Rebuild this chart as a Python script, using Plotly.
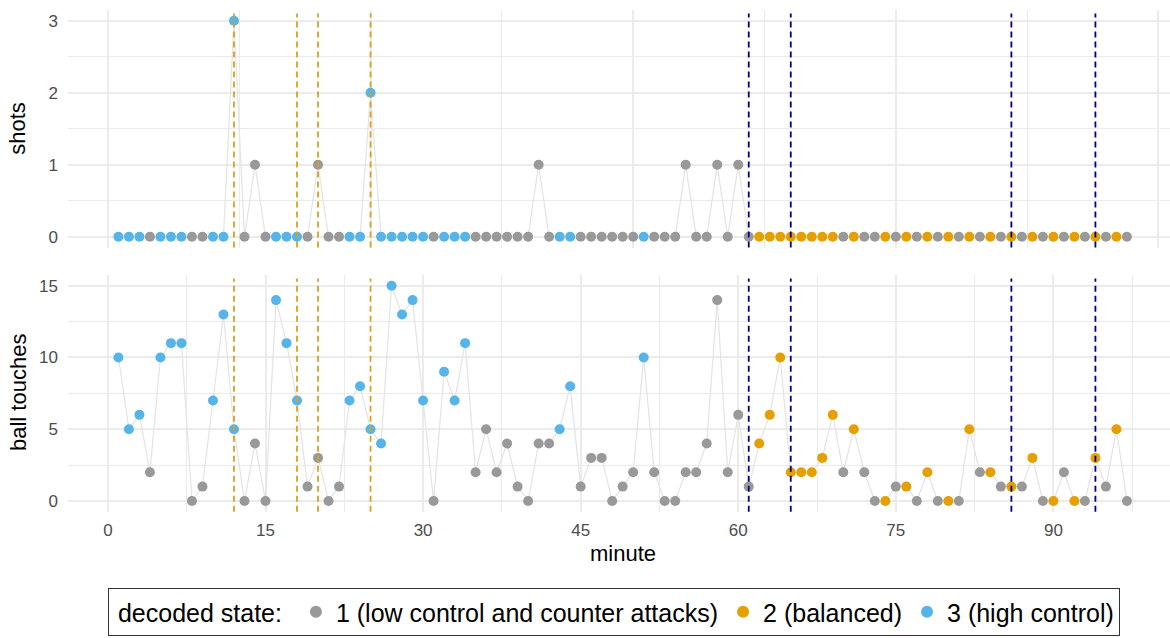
import plotly.graph_objects as go

# ---- data -------------------------------------------------------------
minute = [1, 2, 3, 4, 5, 6, 7, 8, 9, 10, 11, 12, 13, 14, 15, 16, 17, 18, 19, 20,
          21, 22, 23, 24, 25, 26, 27, 28, 29, 30, 31, 32, 33, 34, 35, 36, 37, 38, 39, 40,
          41, 42, 43, 44, 45, 46, 47, 48, 49, 50, 51, 52, 53, 54, 55, 56, 57, 58, 59, 60,
          61, 62, 63, 64, 65, 66, 67, 68, 69, 70, 71, 72, 73, 74, 75, 76, 77, 78, 79, 80,
          81, 82, 83, 84, 85, 86, 87, 88, 89, 90, 91, 92, 93, 94, 95, 96, 97]

decoded_state = [3, 3, 3, 1, 3, 3, 3, 1, 1, 3, 3, 3, 1, 1, 1, 3, 3, 3, 1, 1,
                 1, 1, 3, 3, 3, 3, 3, 3, 3, 3, 1, 3, 3, 3, 1, 1, 1, 1, 1, 1,
                 1, 1, 3, 3, 1, 1, 1, 1, 1, 1, 3, 1, 1, 1, 1, 1, 1, 1, 1, 1,
                 1, 2, 2, 2, 2, 2, 2, 2, 2, 1, 2, 1, 1, 2, 1, 2, 1, 2, 1, 2,
                 1, 2, 1, 2, 1, 2, 1, 2, 1, 2, 1, 2, 1, 2, 1, 2, 1]

shots = [0, 0, 0, 0, 0, 0, 0, 0, 0, 0, 0, 3, 0, 1, 0, 0, 0, 0, 0, 1,
         0, 0, 0, 0, 2, 0, 0, 0, 0, 0, 0, 0, 0, 0, 0, 0, 0, 0, 0, 0,
         1, 0, 0, 0, 0, 0, 0, 0, 0, 0, 0, 0, 0, 0, 1, 0, 0, 1, 0, 1,
         0, 0, 0, 0, 0, 0, 0, 0, 0, 0, 0, 0, 0, 0, 0, 0, 0, 0, 0, 0,
         0, 0, 0, 0, 0, 0, 0, 0, 0, 0, 0, 0, 0, 0, 0, 0, 0]

ball_touches = [10, 5, 6, 2, 10, 11, 11, 0, 1, 7, 13, 5, 0, 4, 0, 14, 11, 7, 1, 3,
                0, 1, 7, 8, 5, 4, 15, 13, 14, 7, 0, 9, 7, 11, 2, 5, 2, 4, 1, 0,
                4, 4, 5, 8, 1, 3, 3, 0, 1, 2, 10, 2, 0, 0, 2, 2, 4, 14, 2, 6,
                1, 4, 6, 10, 2, 2, 2, 3, 6, 2, 5, 2, 0, 0, 1, 1, 0, 2, 0, 0,
                0, 5, 2, 2, 1, 1, 1, 3, 0, 0, 2, 0, 0, 3, 1, 5, 0]

goals_team_a = [12, 18, 20, 25]
goals_team_b = [61, 65, 86, 94]

state_ids = [1, 2, 3]
state_labels = ["1 (low control and counter attacks)", "2 (balanced)", "3 (high control)"]

# ---- styling ----------------------------------------------------------
W, H = 1170, 638
FONT = "Liberation Sans, Arial, sans-serif"
state_colors = {1: "#999999", 2: "#E69F00", 3: "#56B4E9"}
GRID = "#ebebeb"
TICK_FONT = dict(family=FONT, size=17, color="#4d4d4d")


def dom_y(top_px, bottom_px):
    return [(H - bottom_px) / H, (H - top_px) / H]


fig = go.Figure()

panels = [(shots, "x", "y"), (ball_touches, "x2", "y2")]
for row, (values, xa, ya) in enumerate(panels):
    fig.add_trace(go.Scatter(
        x=minute, y=values, mode="lines",
        line=dict(color="#e3e3e3", width=1.2),
        xaxis=xa, yaxis=ya, showlegend=False, hoverinfo="skip"))
    for sid, label in zip(state_ids, state_labels):
        xs = [m for m, s in zip(minute, decoded_state) if s == sid]
        ys = [v for v, s in zip(values, decoded_state) if s == sid]
        fig.add_trace(go.Scatter(
            x=xs, y=ys, mode="markers",
            marker=dict(color=state_colors[sid], size=10, line=dict(width=0)),
            name=label, legendgroup=str(sid), showlegend=(row == 0),
            xaxis=xa, yaxis=ya))

# event markers as dashed verticals spanning each panel
for xref, yref in (("x", "y domain"), ("x2", "y2 domain")):
    for m in goals_team_a:
        fig.add_shape(type="line", xref=xref, yref=yref, x0=m, x1=m, y0=0, y1=0.985,
                      line=dict(color="#D9A11E", width=1.8, dash="6px,4px"))
    for m in goals_team_b:
        fig.add_shape(type="line", xref=xref, yref=yref, x0=m, x1=m, y0=0, y1=0.985,
                      line=dict(color="#00008B", width=1.8, dash="6px,4px"))

x_common = dict(range=[-3.8, 101.1], domain=[68 / W, 1], zeroline=False, showline=False,
                ticks="", gridcolor=GRID, gridwidth=1.6)
y_common = dict(zeroline=False, showline=False, ticks="", gridcolor=GRID, gridwidth=1.6,
                tickfont=TICK_FONT, ticklabelstandoff=9)

fig.update_layout(
    width=W, height=H,
    margin=dict(l=0, r=0, t=0, b=0),
    paper_bgcolor="white", plot_bgcolor="white",
    font=dict(family=FONT, color="black"),
    xaxis=dict(**x_common, anchor="y", tickmode="array", tickvals=[0, 25, 50, 75, 100],
               showticklabels=False,
               minor=dict(tickmode="array", tickvals=[12.5, 37.5, 62.5, 87.5],
                          showgrid=True, gridcolor=GRID, gridwidth=0.8)),
    xaxis2=dict(**x_common, anchor="y2", tickmode="array",
                tickvals=[0, 15, 30, 45, 60, 75, 90], tickfont=TICK_FONT,
                ticklabelstandoff=6,
                minor=dict(tickmode="array",
                           tickvals=[7.5, 22.5, 37.5, 52.5, 67.5, 82.5, 97.5],
                           showgrid=True, gridcolor=GRID, gridwidth=0.8)),
    yaxis=dict(**y_common, anchor="x", domain=dom_y(10, 247.6), range=[-0.15, 3.15],
               tickmode="array", tickvals=[0, 1, 2, 3],
               minor=dict(tickmode="array", tickvals=[0.5, 1.5, 2.5],
                          showgrid=True, gridcolor=GRID, gridwidth=0.8)),
    yaxis2=dict(**y_common, anchor="x2", domain=dom_y(275, 511.7), range=[-0.75, 15.75],
                tickmode="array", tickvals=[0, 5, 10, 15],
                minor=dict(tickmode="array", tickvals=[2.5, 7.5, 12.5],
                           showgrid=True, gridcolor=GRID, gridwidth=0.8)),
    legend=dict(
        orientation="h", x=108 / W, xanchor="left", y=(H - 588) / H, yanchor="top",
        bordercolor="#333333", borderwidth=1, bgcolor="white",
        font=dict(family=FONT, size=25, color="black"),
        title=dict(text=" decoded state: ", side="left",
                   font=dict(family=FONT, size=25, color="black")),
        itemsizing="constant",
    ),
    showlegend=True,
)

title_font = dict(family=FONT, size=22, color="black")
fig.add_annotation(text="shots", x=18 / W, y=(H - 128.8) / H, xref="paper", yref="paper",
                   textangle=-90, showarrow=False, font=title_font,
                   xanchor="center", yanchor="middle")
fig.add_annotation(text="ball touches", x=18 / W, y=(H - 393) / H, xref="paper",
                   yref="paper", textangle=-90, showarrow=False, font=title_font,
                   xanchor="center", yanchor="middle")
fig.add_annotation(text="minute", x=622.5 / W, y=(H - 553) / H, xref="paper", yref="paper",
                   showarrow=False, font=title_font, xanchor="center", yanchor="middle")

fig.write_html("out.html")
